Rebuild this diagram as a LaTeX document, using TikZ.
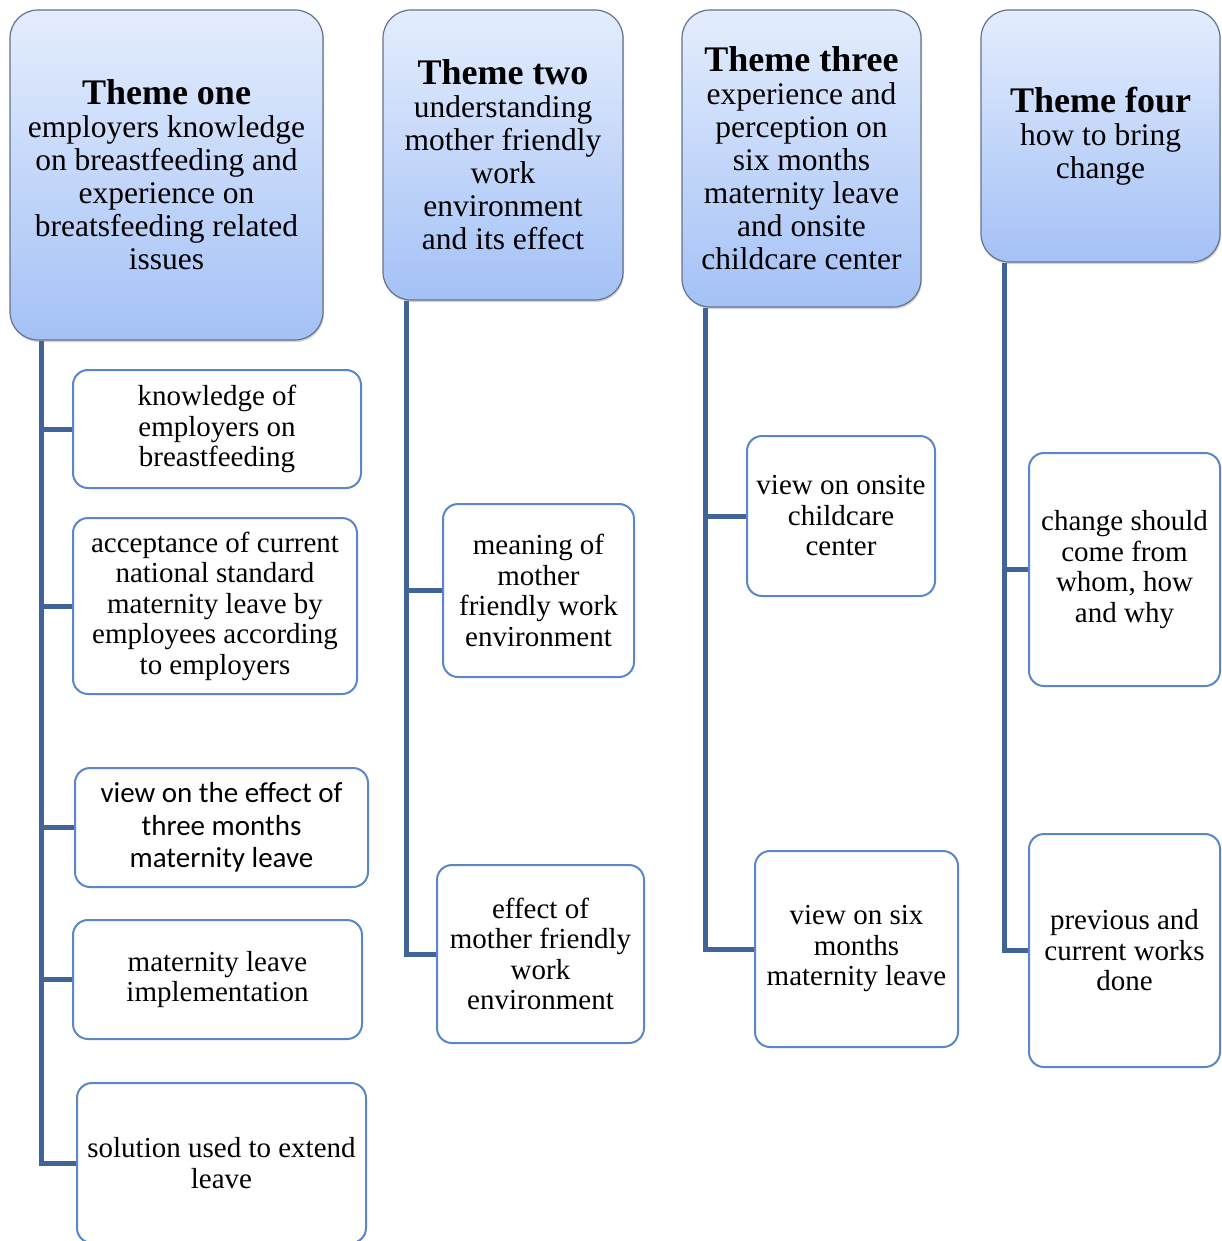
\documentclass[tikz,border=0pt]{standalone}
\usepackage{fontspec}
\setmainfont{Liberation Serif}
\newfontfamily\calibrifont{Carlito}
\usetikzlibrary{shadows, calc}
\definecolor{themetop}{RGB}{228,237,253}
\definecolor{themebottom}{RGB}{164,193,246}
\definecolor{themeedge}{RGB}{100,114,140}
\definecolor{subblue}{RGB}{91,135,199}
\definecolor{spineblue}{RGB}{64,100,152}

\begin{document}
\begin{tikzpicture}[
    x=1pt, y=-1pt,
    theme/.style={rectangle, draw=themeedge, line width=1.2pt, top color=themetop, bottom color=themebottom, rounded corners=28pt, align=center, inner sep=2pt, drop shadow={opacity=0.35, shadow xshift=1pt, shadow yshift=-2pt}, font=\fontsize{31.5}{33}\selectfont},
    subtopic/.style={rectangle, draw=subblue, line width=2pt, fill=white, rounded corners=15pt, align=center, inner sep=2pt, font=\fontsize{29}{30.5}\selectfont},
    spine/.style={draw=spineblue, line width=5pt}
]
    \useasboundingbox (0,0) rectangle (1221,1241);

    % Themes
    \node[theme, minimum width=313pt, minimum height=330pt] (t1) at (166.5,175) {{\fontsize{36}{36}\selectfont\bfseries Theme one}\\employers knowledge\\on breastfeeding and\\experience on\\breatsfeeding related\\issues};
    \node[theme, minimum width=240pt, minimum height=290pt] (t2) at (503,155) {{\fontsize{36}{36}\selectfont\bfseries Theme two}\\understanding\\mother friendly\\work\\environment\\and its effect};
    \node[theme, minimum width=239pt, minimum height=297pt] (t3) at (801.5,158.5) {{\fontsize{36}{36}\selectfont\bfseries Theme three}\\experience and\\perception on\\six months\\maternity leave\\and onsite\\childcare center};
    \node[theme, minimum width=239pt, minimum height=252pt] (t4) at (1100.5,136) {{\fontsize{36}{36}\selectfont\bfseries Theme four}\\how to bring\\change};

    % Sub-themes of theme one
    \node[subtopic, minimum width=288pt, minimum height=118pt] (c11) at (217,429) {knowledge of\\employers on\\breastfeeding};
    \node[subtopic, minimum width=284pt, minimum height=176pt] (c12) at (215,606) {acceptance of current\\national standard\\maternity leave by\\employees according\\to employers};
    \node[subtopic, minimum width=293pt, minimum height=119pt, font=\calibrifont\fontsize{29}{32.5}\selectfont] (c13) at (221.5,827.5) {view on the effect of\\three months\\maternity leave};
    \node[subtopic, minimum width=289pt, minimum height=119pt] (c14) at (217.5,979.5) {maternity leave\\implementation};
    \node[subtopic, minimum width=289pt, minimum height=160pt] (c15) at (221.5,1163) {solution used to extend\\leave};

    % Sub-themes of theme two
    \node[subtopic, minimum width=191pt, minimum height=173pt] (c21) at (538.5,590.5) {meaning of\\mother\\friendly work\\environment};
    \node[subtopic, minimum width=207pt, minimum height=178pt] (c22) at (540.5,954) {effect of\\mother friendly\\work\\environment};

    % Sub-themes of theme three
    \node[subtopic, minimum width=188pt, minimum height=160pt] (c31) at (841,516) {view on onsite\\childcare\\center};
    \node[subtopic, minimum width=203pt, minimum height=196pt] (c32) at (856.5,949) {view on six\\months\\maternity leave};

    % Sub-themes of theme four
    \node[subtopic, minimum width=191pt, minimum height=233pt] (c41) at (1124.5,569.5) {change should\\come from\\whom, how\\and why};
    \node[subtopic, minimum width=191pt, minimum height=233pt] (c42) at (1124.5,950.5) {previous and\\current works\\done};

    % Spines
    \coordinate (s1) at ($(t1.south west)+(32,0)$);
    \coordinate (s2) at ($(t2.south west)+(24,0)$);
    \coordinate (s3) at ($(t3.south west)+(24,0)$);
    \coordinate (s4) at ($(t4.south west)+(24,0)$);

    \draw[spine] (s1) |- (c15.west);
    \foreach \c in {c11,c12,c13,c14}
        \draw[spine] (s1 |- \c.west) -- (\c.west);

    \draw[spine] (s2) |- (c22.west);
    \draw[spine] (s2 |- c21.west) -- (c21.west);

    \draw[spine] (s3) |- (c32.west);
    \draw[spine] (s3 |- c31.west) -- (c31.west);

    \draw[spine] (s4) |- (c42.west);
    \draw[spine] (s4 |- c41.west) -- (c41.west);
\end{tikzpicture}
\end{document}
